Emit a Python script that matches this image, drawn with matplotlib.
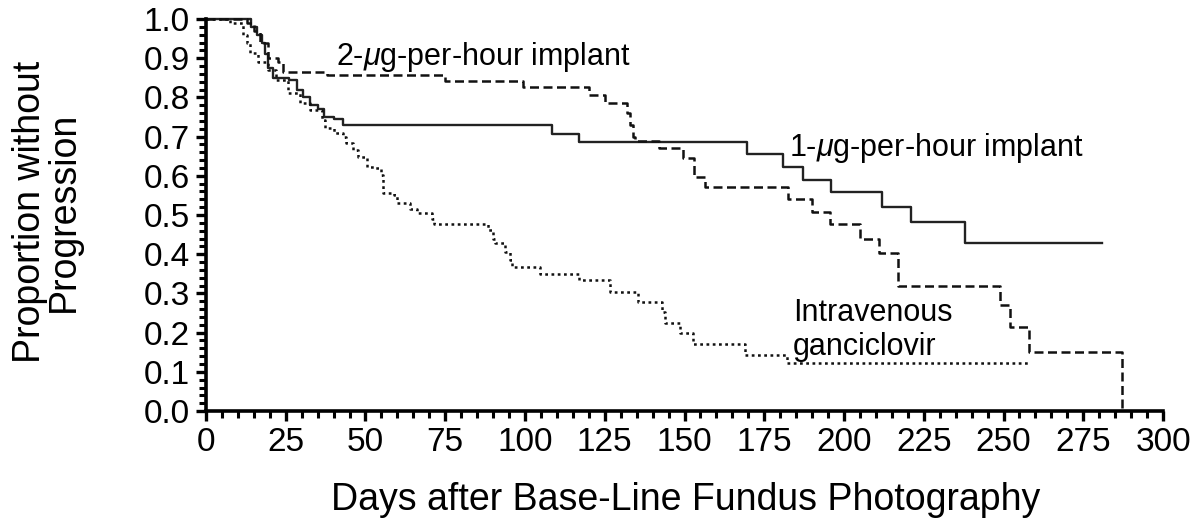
import matplotlib
matplotlib.use("Agg")
import matplotlib.pyplot as plt
from matplotlib.ticker import MultipleLocator

plt.rcParams['font.family'] = ['Liberation Sans', 'DejaVu Sans']
plt.rcParams['mathtext.fontset'] = 'custom'
plt.rcParams['mathtext.rm'] = 'Liberation Sans'
plt.rcParams['mathtext.it'] = 'Liberation Sans:italic'

# 1-ug-per-hour implant (solid)
days_1ug = [0, 14, 16, 17.5, 18.5, 19.5, 21, 26, 28.5, 30.5, 32.5, 35, 37, 40, 43,
            108.5, 117, 169.5, 181, 187, 196, 212, 221, 238, 281]
prop_1ug = [1.0, 0.98, 0.96, 0.94, 0.91, 0.875, 0.85, 0.845, 0.82, 0.80, 0.78, 0.77,
            0.75, 0.745, 0.73, 0.707, 0.687, 0.655, 0.622, 0.59, 0.558, 0.52, 0.482,
            0.428, 0.428]

# 2-ug-per-hour implant (dashed)
days_2ug = [0, 13, 15, 17, 19.5, 22.5, 24, 38, 75, 99.5, 120, 125, 132, 133, 134,
            134.5, 142, 149.5, 153, 156.5, 182.5, 190, 195.5, 205, 211, 217, 249,
            252, 258, 287, 287]
prop_2ug = [1.0, 0.99, 0.97, 0.94, 0.90, 0.89, 0.865, 0.857, 0.843, 0.827, 0.806,
            0.786, 0.76, 0.73, 0.70, 0.688, 0.67, 0.645, 0.596, 0.571, 0.54, 0.508,
            0.476, 0.44, 0.403, 0.319, 0.27, 0.214, 0.15, 0.0, 0.0]

# Intravenous ganciclovir (dotted)
days_iv = [0, 7.5, 11.6, 12.8, 13.8, 16.3, 19.4, 22, 25.7, 29.5, 32.6, 36.4, 37.3,
           40, 43, 44, 46, 47.6, 50.5, 53, 55, 55.5, 59, 59.8, 64, 66, 71, 71.5,
           88.4, 90, 90.6, 93.7, 95.3, 96, 104.7, 117, 126.6, 135.5, 142.8, 144,
           148.6, 152.6, 169, 182, 258]
prop_iv = [1.0, 0.99, 0.96, 0.94, 0.913, 0.89, 0.87, 0.844, 0.81, 0.786, 0.768,
           0.742, 0.722, 0.709, 0.699, 0.684, 0.666, 0.648, 0.623, 0.619, 0.602,
           0.557, 0.551, 0.53, 0.516, 0.505, 0.49, 0.477, 0.462, 0.44, 0.428,
           0.406, 0.385, 0.368, 0.349, 0.334, 0.304, 0.279, 0.253, 0.224, 0.199,
           0.171, 0.143, 0.122, 0.122]

x_ticks = [0, 25, 50, 75, 100, 125, 150, 175, 200, 225, 250, 275, 300]
y_ticks = [0.0, 0.1, 0.2, 0.3, 0.4, 0.5, 0.6, 0.7, 0.8, 0.9, 1.0]

fig = plt.figure(figsize=(11.92, 5.23), dpi=100)
ax = fig.add_axes([0.1728, 0.2141, 0.8029, 0.7496])

ax.step(days_1ug, prop_1ug, where='post', color='#222222', lw=1.7,
        linestyle='-', clip_on=False)
ax.step(days_2ug, prop_2ug, where='post', color='#111111', lw=1.8,
        linestyle=(0, (3.6, 1.8)), clip_on=False)
ax.step(days_iv, prop_iv, where='post', color='#111111', lw=1.8,
        linestyle=(0, (1.1, 1.4)), clip_on=False)

ax.set_xlim(0, 300)
ax.set_ylim(0, 1.0)
ax.set_xticks(x_ticks)
ax.set_xticklabels([str(t) for t in x_ticks])
ax.set_yticks(y_ticks)
ax.set_yticklabels([f"{t:.1f}" for t in y_ticks])
ax.xaxis.set_minor_locator(MultipleLocator(5))
ax.yaxis.set_minor_locator(MultipleLocator(0.02))

for s in ['top', 'right']:
    ax.spines[s].set_visible(False)
for s in ['left', 'bottom']:
    ax.spines[s].set_linewidth(2.6)

ax.tick_params(axis='both', which='major', direction='out', length=7.5, width=2.4,
               labelsize=24, pad=4, colors='black')
ax.tick_params(axis='both', which='minor', direction='out', length=5, width=2.2)

fig.text(686 / 1192, 1 - 500 / 523, "Days after Base-Line Fundus Photography",
         fontsize=27, ha='center', va='center')
fig.text(47 / 1192, 1 - 212 / 523, "Proportion without\nProgression", fontsize=27,
         rotation=90, ha='center', va='center', linespacing=0.95)

ax.text(87, 0.903, "2-$\\mu$g-per-hour implant", fontsize=22, ha='center', va='center')
ax.text(229, 0.671, "1-$\\mu$g-per-hour implant", fontsize=22, ha='center', va='center')
ax.text(184, 0.207, "Intravenous\nganciclovir", fontsize=22, ha='left', va='center',
        linespacing=1.15)

fig.savefig("out.png", dpi=100)
